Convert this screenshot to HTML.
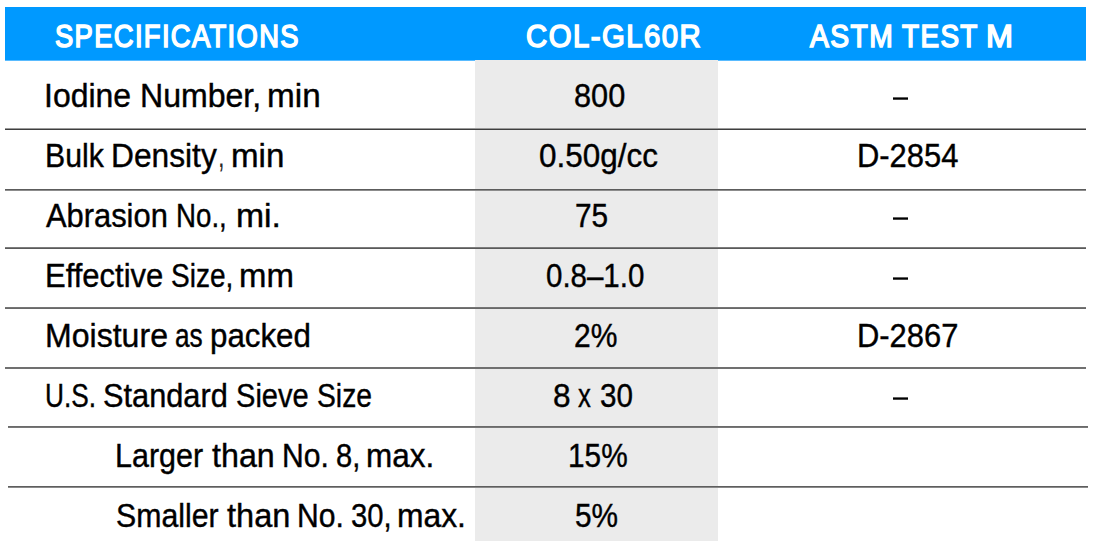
<!DOCTYPE html>
<html><head><meta charset="utf-8"><title>Specifications</title>
<style>
html,body{margin:0;padding:0;background:#fff;}
body{width:1095px;height:541px;position:relative;overflow:hidden;font-family:"Liberation Sans",sans-serif;}
.hd{position:absolute;left:5px;top:7px;width:1081px;height:54px;background:linear-gradient(#0099ff 53px,#59bbff 53px);}
.gc{position:absolute;left:475px;top:60px;width:243px;height:481px;background:#ebebeb;}
.ln{position:absolute;height:2px;}
.ds{position:absolute;left:893px;width:15px;height:3px;background:linear-gradient(rgba(0,0,0,.62) 1px,#000 1px,#000 2px,rgba(0,0,0,.72) 2px);}
.t{position:absolute;white-space:nowrap;line-height:1;transform-origin:0 0;font-size:33px;color:#000;-webkit-text-stroke:0.4px #000;}
.h{font-size:32px;color:#fff;-webkit-text-stroke:1.6px #fff;letter-spacing:1.6px;}
.c{-webkit-text-stroke:0;color:#2a2a2a;}
</style></head><body>
<div class="hd"></div>
<div class="gc"></div>
<div class="ln" style="left:5px;top:128px;width:1081px;background:linear-gradient(#9a9a9a 50%,#3e3e3e 50%)"></div>
<div class="ln" style="left:5px;top:189px;width:1081px;background:linear-gradient(#5c5c5c 50%,#8c8c8c 50%)"></div>
<div class="ln" style="left:5px;top:247px;width:1081px;background:linear-gradient(#7c7c7c 50%,#5a5a5a 50%)"></div>
<div class="ln" style="left:5px;top:307px;width:1081px;background:linear-gradient(#757575 50%,#686868 50%)"></div>
<div class="ln" style="left:5px;top:367px;width:1081px;background:linear-gradient(#707070 50%,#707070 50%)"></div>
<div class="ln" style="left:8px;top:426px;width:1080px;background:linear-gradient(#6a6a6a 50%,#787878 50%)"></div>
<div class="ln" style="left:8px;top:486px;width:1080px;background:linear-gradient(#5e5e5e 50%,#8a8a8a 50%)"></div>
<div class="ds" style="top:97px"></div>
<div class="ds" style="top:217px"></div>
<div class="ds" style="top:277px"></div>
<div class="ds" style="top:397px"></div>
<div class="t h" style="left:55.33px;top:20.11px;transform:scaleX(0.8541)">SPECIFICATIONS</div>
<div class="t h" style="left:525.52px;top:20.11px;transform:scaleX(0.9162)">COL-GL60R</div>
<div class="t h" style="left:809.61px;top:20.11px;transform:scaleX(0.8832)">ASTM</div>
<div class="t h" style="left:902.40px;top:20.11px;transform:scaleX(0.8707)">TEST</div>
<div class="t h" style="left:986.29px;top:20.11px;transform:scaleX(1.0122)">M</div>
<div class="t" style="left:43.69px;top:78.87px;transform:scaleX(0.9691)">Iodine</div>
<div class="t" style="left:139.55px;top:78.87px;transform:scaleX(0.9715)">Number,</div>
<div class="t" style="left:266.88px;top:78.87px;transform:scaleX(1.0095)">min</div>
<div class="t" style="left:44.75px;top:138.87px;transform:scaleX(0.9161)">Bulk</div>
<div class="t" style="left:110.97px;top:138.87px;transform:scaleX(0.9611)">Density</div>
<div class="t c" style="left:217.86px;top:138.87px;transform:scaleX(0.7200)">,</div>
<div class="t" style="left:231.19px;top:138.87px;transform:scaleX(1.0036)">min</div>
<div class="t" style="left:45.79px;top:198.87px;transform:scaleX(0.9351)">Abrasion</div>
<div class="t" style="left:176.29px;top:198.87px;transform:scaleX(0.8387)">No.,</div>
<div class="t" style="left:235.66px;top:198.87px;transform:scaleX(1.0219)">mi.</div>
<div class="t" style="left:45.31px;top:258.87px;transform:scaleX(0.9390)">Effective</div>
<div class="t" style="left:170.92px;top:258.87px;transform:scaleX(0.8499)">Size,</div>
<div class="t" style="left:239.10px;top:258.87px;transform:scaleX(0.9983)">mm</div>
<div class="t" style="left:44.65px;top:318.87px;transform:scaleX(0.9718)">Moisture</div>
<div class="t" style="left:174.96px;top:318.87px;transform:scaleX(0.7940)">as</div>
<div class="t" style="left:210.49px;top:318.87px;transform:scaleX(0.9482)">packed</div>
<div class="t" style="left:44.77px;top:378.67px;transform:scaleX(0.7946)">U.S.</div>
<div class="t" style="left:102.95px;top:378.67px;transform:scaleX(0.9320)">Standard</div>
<div class="t" style="left:236.10px;top:378.67px;transform:scaleX(0.8809)">Sieve</div>
<div class="t" style="left:316.61px;top:378.67px;transform:scaleX(0.8563)">Size</div>
<div class="t" style="left:115.04px;top:438.67px;transform:scaleX(0.9243)">Larger</div>
<div class="t" style="left:211.90px;top:438.67px;transform:scaleX(0.9767)">than</div>
<div class="t" style="left:282.26px;top:438.67px;transform:scaleX(0.9121)">No.</div>
<div class="t" style="left:336.00px;top:438.67px;transform:scaleX(0.8807)">8,</div>
<div class="t" style="left:366.18px;top:438.67px;transform:scaleX(0.9536)">max.</div>
<div class="t" style="left:115.97px;top:498.87px;transform:scaleX(0.9167)">Smaller</div>
<div class="t" style="left:226.90px;top:498.87px;transform:scaleX(0.9862)">than</div>
<div class="t" style="left:296.86px;top:498.87px;transform:scaleX(0.9121)">No.</div>
<div class="t" style="left:350.89px;top:498.87px;transform:scaleX(0.8862)">30,</div>
<div class="t" style="left:397.36px;top:498.87px;transform:scaleX(0.9639)">max.</div>
<div class="t" style="left:574.26px;top:78.87px;transform:scaleX(0.9297)">800</div>
<div class="t" style="left:538.74px;top:138.87px;transform:scaleX(0.9535)">0.50g/cc</div>
<div class="t" style="left:575.28px;top:198.87px;transform:scaleX(0.9035)">75</div>
<div class="t" style="left:545.99px;top:258.87px;transform:scaleX(0.8933)">0.8–1.0</div>
<div class="t" style="left:574.27px;top:318.87px;transform:scaleX(0.9090)">2%</div>
<div class="t" style="left:553.23px;top:378.67px;transform:scaleX(0.9573)">8</div>
<div class="t" style="left:578.36px;top:378.67px;transform:scaleX(0.7759)">x</div>
<div class="t" style="left:600.38px;top:378.67px;transform:scaleX(0.8978)">30</div>
<div class="t" style="left:567.87px;top:438.87px;transform:scaleX(0.9032)">15%</div>
<div class="t" style="left:574.78px;top:498.87px;transform:scaleX(0.9026)">5%</div>
<div class="t" style="left:856.51px;top:138.87px;transform:scaleX(0.9362)">D-2854</div>
<div class="t" style="left:856.51px;top:318.67px;transform:scaleX(0.9366)">D-2867</div>
</body></html>
